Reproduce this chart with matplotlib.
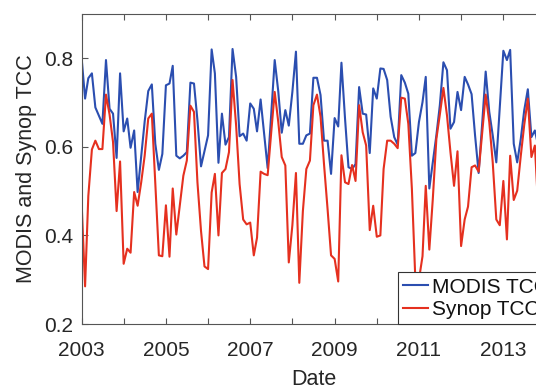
import matplotlib
matplotlib.use("Agg")
import matplotlib.pyplot as plt
import matplotlib.dates as mdates
import pandas as pd

plt.rcParams['font.family'] = ['Liberation Sans', 'DejaVu Sans']

# monthly means, starting Jan 2003
modis_tcc = [
    0.804, 0.709, 0.755, 0.766, 0.689, 0.670, 0.652, 0.796, 0.686, 0.675, 0.575, 0.766,
    0.635, 0.664, 0.598, 0.637, 0.498, 0.580, 0.657, 0.726, 0.741, 0.607, 0.548, 0.584,
    0.739, 0.743, 0.783, 0.580, 0.574, 0.580, 0.588, 0.745, 0.743, 0.660, 0.556, 0.590,
    0.626, 0.820, 0.766, 0.564, 0.675, 0.605, 0.622, 0.821, 0.758, 0.624, 0.630, 0.614,
    0.698, 0.686, 0.635, 0.707, 0.630, 0.552, 0.670, 0.796, 0.725, 0.632, 0.683, 0.648,
    0.724, 0.815, 0.607, 0.607, 0.626, 0.630, 0.756, 0.756, 0.717, 0.614, 0.614, 0.539,
    0.665, 0.646, 0.790, 0.664, 0.554, 0.550, 0.561, 0.735, 0.675, 0.673, 0.586, 0.732,
    0.709, 0.777, 0.776, 0.751, 0.668, 0.622, 0.605, 0.762, 0.745, 0.720, 0.580, 0.586,
    0.656, 0.701, 0.758, 0.506, 0.565, 0.626, 0.694, 0.791, 0.773, 0.641, 0.656, 0.724,
    0.683, 0.758, 0.741, 0.719, 0.626, 0.541, 0.650, 0.770, 0.679, 0.626, 0.565, 0.690,
    0.817, 0.796, 0.819, 0.607, 0.565, 0.618, 0.683, 0.730, 0.622, 0.637, 0.600,
]

synop_tcc = [
    0.480, 0.285, 0.489, 0.594, 0.614, 0.595, 0.595, 0.718, 0.673, 0.611, 0.455, 0.567,
    0.336, 0.370, 0.361, 0.498, 0.467, 0.520, 0.580, 0.664, 0.675, 0.520, 0.355, 0.353,
    0.468, 0.352, 0.506, 0.402, 0.467, 0.535, 0.569, 0.693, 0.679, 0.520, 0.410, 0.330,
    0.324, 0.497, 0.539, 0.400, 0.541, 0.550, 0.588, 0.751, 0.648, 0.516, 0.436, 0.425,
    0.429, 0.355, 0.395, 0.544, 0.539, 0.536, 0.630, 0.724, 0.656, 0.577, 0.558, 0.339,
    0.423, 0.541, 0.293, 0.455, 0.550, 0.569, 0.694, 0.718, 0.668, 0.561, 0.459, 0.355,
    0.347, 0.296, 0.581, 0.520, 0.516, 0.559, 0.523, 0.694, 0.633, 0.603, 0.412, 0.467,
    0.397, 0.400, 0.550, 0.614, 0.614, 0.607, 0.597, 0.711, 0.709, 0.652, 0.505, 0.300,
    0.300, 0.353, 0.512, 0.368, 0.482, 0.618, 0.673, 0.733, 0.671, 0.588, 0.512, 0.590,
    0.376, 0.436, 0.465, 0.554, 0.558, 0.544, 0.630, 0.718, 0.656, 0.565, 0.436, 0.423,
    0.523, 0.391, 0.580, 0.480, 0.501, 0.580, 0.650, 0.709, 0.577, 0.603, 0.450,
]

dates = pd.date_range("2003-01-01", periods=len(modis_tcc), freq="MS")

txt = "#262626"
fig = plt.figure(figsize=(5.36, 3.92), dpi=100)
ax = fig.add_axes([81.5 / 536, 68 / 392, 464 / 536, 310 / 392])

ax.plot(dates, modis_tcc, color="#2b4eb0", lw=1.5, label="MODIS TCC")
ax.plot(dates, synop_tcc, color="#e5301f", lw=1.5, label="Synop TCC")

ax.set_xlim(pd.Timestamp("2003-01-01"), pd.Timestamp("2014-01-01"))
ax.set_ylim(0.2, 0.9)
ax.set_yticks([0.2, 0.4, 0.6, 0.8])
ax.set_yticklabels(["0.2", "0.4", "0.6", "0.8"])

ax.xaxis.set_major_locator(mdates.YearLocator(1))
ax.xaxis.set_major_formatter(
    matplotlib.ticker.FuncFormatter(
        lambda v, p: str(mdates.num2date(v).year) if mdates.num2date(v).year % 2 == 1 else ""
    )
)

for s in ax.spines.values():
    s.set_color("#555555")
    s.set_linewidth(0.8)
ax.tick_params(direction="in", length=4, width=0.8, color="#555555",
               labelsize=15, labelcolor=txt, top=True, right=True)
ax.tick_params(axis="x", pad=12)
ax.tick_params(axis="y", pad=6)

ax.set_xlabel("Date", fontsize=15.5, color=txt, labelpad=7)
ax.set_ylabel("MODIS and Synop TCC", fontsize=15.5, color=txt, labelpad=5)

leg = ax.legend(loc="lower left", bbox_to_anchor=(398 / 536, 68 / 392),
                bbox_transform=fig.transFigure, borderaxespad=0,
                fontsize=15, frameon=True, fancybox=False,
                handlelength=1.2, handletextpad=0.2, borderpad=0.25,
                labelspacing=0.15)
leg.get_frame().set_edgecolor("#333333")
leg.get_frame().set_linewidth(0.8)
leg.get_frame().set_alpha(1)
for t in leg.get_texts():
    t.set_color("#111111")

fig.savefig("out.png", dpi=100)
